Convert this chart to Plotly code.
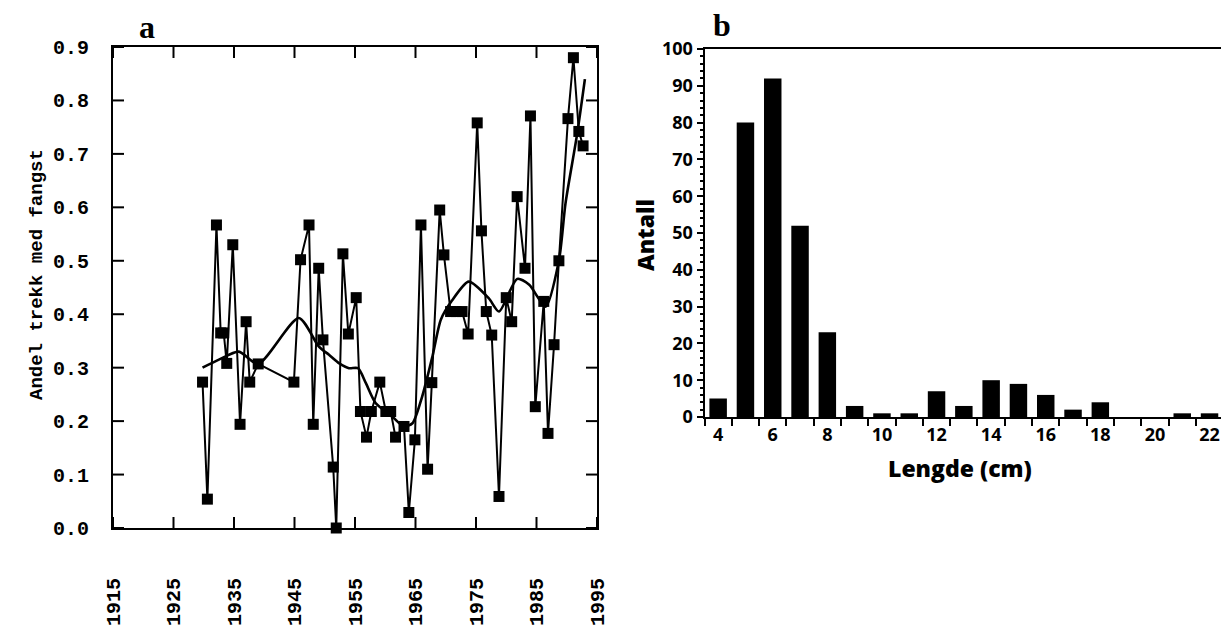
import plotly.graph_objects as go

# Panel a: share of trawl hauls with catch, per survey year
years = [1929.8, 1930.6, 1932.1, 1932.8, 1933.3, 1933.8, 1934.8, 1936.0, 1937.0, 1937.6,
         1939.0, 1944.9, 1946.0, 1947.4, 1948.1, 1949.0, 1949.7, 1951.4, 1951.9, 1953.0,
         1953.9, 1955.2, 1955.9, 1956.9, 1957.7, 1959.1, 1960.1, 1960.9, 1961.7, 1963.1,
         1963.9, 1964.9, 1965.9, 1967.0, 1967.7, 1969.0, 1969.7, 1970.8, 1971.7, 1972.7,
         1973.7, 1975.2, 1975.9, 1976.7, 1977.6, 1978.8, 1980.0, 1980.9, 1981.8, 1983.1,
         1984.0, 1984.8, 1986.2, 1986.9, 1987.9, 1988.7, 1990.2, 1991.1, 1992.0, 1992.7]
share = [0.273, 0.054, 0.567, 0.365, 0.365, 0.308, 0.530, 0.194, 0.386, 0.273,
         0.307, 0.273, 0.502, 0.567, 0.194, 0.486, 0.352, 0.114, 0.000, 0.513,
         0.363, 0.431, 0.218, 0.170, 0.218, 0.273, 0.218, 0.218, 0.170, 0.190,
         0.029, 0.165, 0.567, 0.110, 0.272, 0.595, 0.511, 0.405, 0.405, 0.405,
         0.363, 0.758, 0.556, 0.405, 0.361, 0.059, 0.431, 0.386, 0.620, 0.486,
         0.771, 0.227, 0.424, 0.177, 0.343, 0.500, 0.766, 0.880, 0.742, 0.715]

# Smoothed trend through the series
trend_years = [1929.8, 1932.5, 1935.8, 1939.0, 1945.7, 1949.0, 1950.7, 1952.4, 1954.0,
               1955.5, 1956.8, 1958.4, 1961.2, 1963.1, 1964.5, 1966.1, 1967.8, 1969.2,
               1971.0, 1973.8, 1977.1, 1978.8, 1981.8, 1983.8, 1986.5, 1988.7, 1989.8,
               1991.7, 1993.0]
trend = [0.300, 0.315, 0.330, 0.307, 0.393, 0.340, 0.324, 0.308, 0.299,
         0.299, 0.271, 0.234, 0.208, 0.190, 0.196, 0.246, 0.321, 0.390,
         0.425, 0.461, 0.430, 0.405, 0.466, 0.455, 0.414, 0.500, 0.608,
         0.736, 0.840]

year_ticks = [1915, 1925, 1935, 1945, 1955, 1965, 1975, 1985, 1995]
share_ticks = [0.0, 0.1, 0.2, 0.3, 0.4, 0.5, 0.6, 0.7, 0.8, 0.9]

# Panel b: length distribution
lengths = list(range(4, 23))
counts = [5, 80, 92, 52, 23, 3, 1, 1, 7, 3, 10, 9, 6, 2, 4, 0, 0, 1, 1]
length_ticks = [4, 6, 8, 10, 12, 14, 16, 18, 20, 22]
count_ticks = list(range(0, 101, 10))

W, H = 1221, 630
mono = dict(family="Liberation Mono", size=20, color="black", weight="bold")
sans = dict(family="Open Sans", size=18, color="black", weight="bold")

YEAR_RANGE = [1915, 1995]
SHARE_RANGE = [0, 0.9]
TICK_LEN = 11

fig = go.Figure()

fig.add_trace(go.Scatter(
    x=years, y=share, mode="lines+markers",
    line=dict(color="black", width=2),
    marker=dict(symbol="square", size=11, color="black"),
    xaxis="x", yaxis="y", showlegend=False, cliponaxis=False))
fig.add_trace(go.Scatter(
    x=trend_years, y=trend, mode="lines",
    line=dict(color="black", width=2.6, shape="spline", smoothing=0.7),
    xaxis="x", yaxis="y", showlegend=False))

fig.add_trace(go.Bar(
    x=lengths, y=counts, width=0.64,
    marker=dict(color="black", line=dict(width=0)),
    xaxis="x2", yaxis="y2", showlegend=False))

# monospaced trailing blanks keep the labels clear of the frame
year_text = [f"{v}   " for v in year_ticks]
share_text = [f"{v:.1f} " for v in share_ticks]

fig.update_layout(
    template="none",
    width=W, height=H,
    margin=dict(l=0, r=0, t=0, b=0),
    paper_bgcolor="white", plot_bgcolor="white",
    xaxis=dict(
        domain=[113 / W, 597 / W], range=YEAR_RANGE,
        tickmode="array", tickvals=year_ticks, ticktext=year_text,
        tickangle=-90, ticks="", ticklabelstandoff=4,
        showline=True, linewidth=2, linecolor="black", mirror=True,
        showgrid=False, zeroline=False, tickfont=mono, anchor="y",
        automargin=False),
    yaxis=dict(
        domain=[1 - 528 / H, 1 - 47 / H], range=SHARE_RANGE,
        tickmode="array", tickvals=share_ticks, ticktext=share_text, ticks="",
        ticklabelstandoff=6,
        showline=True, linewidth=2, linecolor="black", mirror=True,
        showgrid=False, zeroline=False, tickfont=mono, anchor="x",
        automargin=False),
    xaxis2=dict(
        domain=[704.5 / W, 1.0], range=[3.5, 22.42],
        tickmode="array", tickvals=length_ticks,
        ticks="outside", ticklen=0, tickwidth=2, tickcolor="black",
        minor=dict(tick0=3.5, dtick=1, ticks="outside", ticklen=7,
                   tickwidth=2, tickcolor="black"),
        showline=True, linewidth=2, linecolor="black", mirror=True,
        showgrid=False, zeroline=False, tickfont=sans, anchor="y2",
        automargin=False),
    yaxis2=dict(
        domain=[1 - 417 / H, 1 - 49 / H], range=[0, 100],
        tickmode="array", tickvals=count_ticks,
        ticks="outside", ticklen=6, tickwidth=2, tickcolor="black",
        minor=dict(dtick=2, ticks="outside", ticklen=3, tickwidth=1.5,
                   tickcolor="black"),
        showline=True, linewidth=2, linecolor="black",
        showgrid=False, zeroline=False, tickfont=sans, anchor="x2",
        automargin=False),
)

# inward tick marks on all four sides of panel a, placed through the axis scales
tick_line = dict(color="black", width=2)
for v in year_ticks:
    for edge, sign in ((SHARE_RANGE[0], 1), (SHARE_RANGE[1], -1)):
        fig.add_shape(type="line", xref="x", yref="y", x0=v, x1=v,
                      ysizemode="pixel", yanchor=edge, y0=0, y1=sign * TICK_LEN,
                      line=tick_line)
for v in share_ticks:
    for edge, sign in ((YEAR_RANGE[0], 1), (YEAR_RANGE[1], -1)):
        fig.add_shape(type="line", xref="x", yref="y", y0=v, y1=v,
                      xsizemode="pixel", xanchor=edge, x0=0, x1=sign * TICK_LEN,
                      line=tick_line)

labels = [
    dict(x=37, y=275, text="Andel trekk med fangst", angle=-90,
         font=dict(family="Liberation Mono", size=19, weight="bold")),
    dict(x=147, y=27, text="a", angle=0,
         font=dict(family="Liberation Serif", size=32, weight="bold")),
    dict(x=722, y=25, text="b", angle=0,
         font=dict(family="Liberation Serif", size=32, weight="bold")),
    dict(x=645, y=235, text="Antall", angle=-90,
         font=dict(family="Open Sans", size=23, weight=800)),
    dict(x=960, y=468, text="Lengde (cm)", angle=0,
         font=dict(family="Open Sans", size=23, weight=800)),
]
for lab in labels:
    fig.add_annotation(x=lab["x"] / W, y=1 - lab["y"] / H, xref="paper", yref="paper",
                       xanchor="center", yanchor="middle",
                       text=lab["text"], textangle=lab["angle"], showarrow=False,
                       font=dict(color="black", **lab["font"]))

fig.write_html("out.html")
